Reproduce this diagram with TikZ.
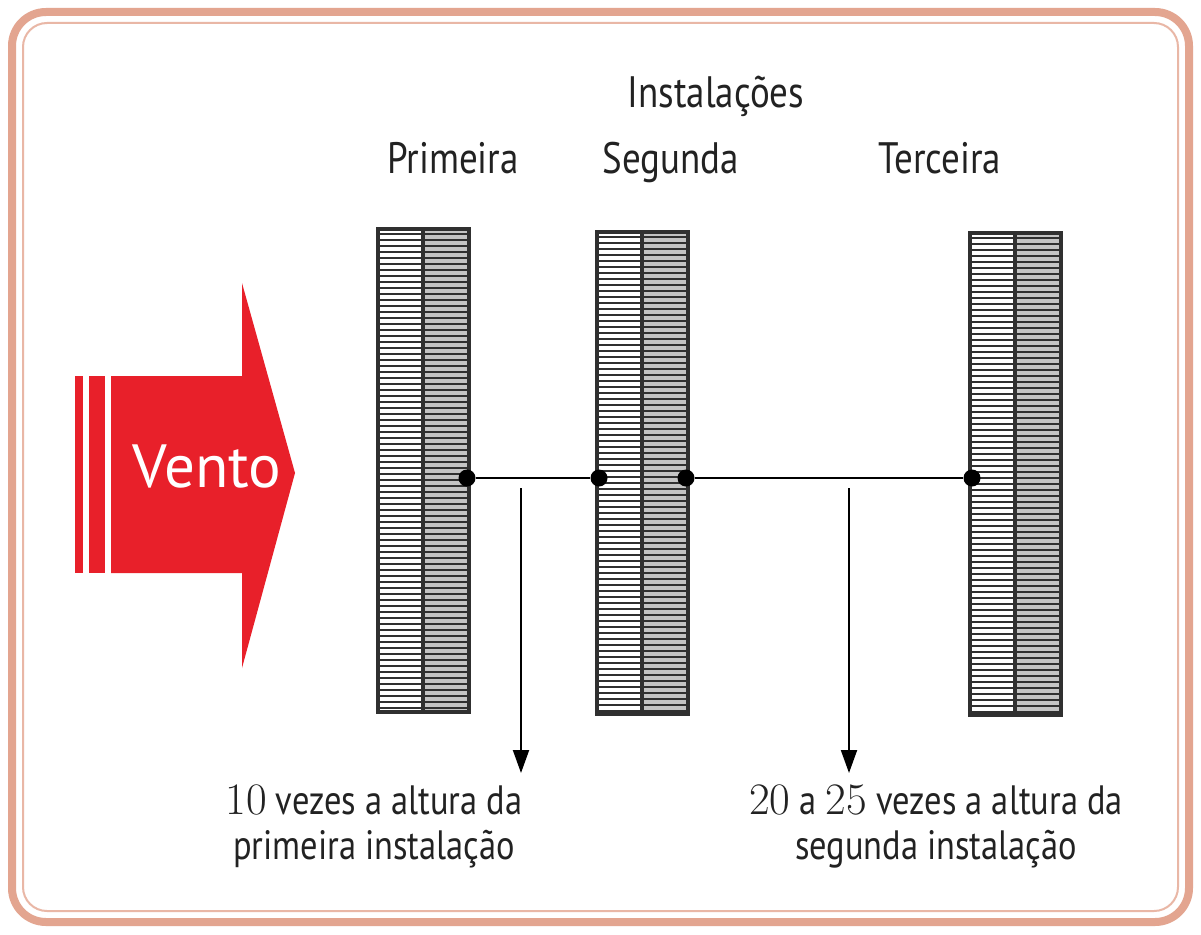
\documentclass[tikz,border=0pt]{standalone}
\usepackage{fontspec}
\setsansfont[FakeStretch=0.84]{PT Sans}
\newfontfamily\ventofont{PT Sans}
\definecolor{frame}{HTML}{E3A590}
\definecolor{ventored}{HTML}{E8202A}
\definecolor{barline}{HTML}{303030}
\definecolor{bargrey}{HTML}{C4C4C4}
\definecolor{txt}{HTML}{222222}
\usetikzlibrary{arrows.meta}
\tikzset{
  lbl/.style={font=\sffamily\fontsize{44}{50}\selectfont, text=txt, inner sep=0pt, anchor=base},
  note/.style={font=\sffamily\fontsize{41}{45}\selectfont, text=txt, inner sep=0pt, align=center, anchor=north},
  dot/.style={circle, fill=black, inner sep=0pt, minimum size=17pt},
  conn/.style={line width=2pt, black},
  down/.style={line width=2pt, black, -{Triangle[width=16pt,length=23pt]}},
}
\newcommand{\num}[1]{{\rmfamily\fontsize{45}{45}\selectfont #1}}
\newcommand{\windbar}[3]{%
  % #1 left x, #2 top y, #3 bottom y
  \fill[white] (#1,#2) rectangle ({#1+45},#3);
  \fill[bargrey] ({#1+45},#2) rectangle ({#1+91},#3);
  \pgfmathtruncatemacro{\nstr}{(#3-#2)/6}
  \foreach \k in {1,...,\nstr} {
    \draw[barline, line width=1.6pt] (#1,{#2+6*\k-1}) -- ({#1+91},{#2+6*\k-1});
  }
  \draw[barline, line width=3.5pt] (#1,#2) rectangle ({#1+91},#3);
  \draw[barline, line width=4pt] ({#1+45},#2) -- ({#1+45},#3);
}
\begin{document}
\begin{tikzpicture}[x=1pt,y=-1pt]
\useasboundingbox (0,0) rectangle (1201,934);
\fill[white] (0,0) rectangle (1201,934);
% frame
\draw[frame, line width=8pt, rounded corners=34pt] (12,12) rectangle (1189,922);
\draw[frame!80, line width=2pt, rounded corners=24pt] (23,23) rectangle (1178,911);
% wind arrow
\fill[ventored] (75,376) rectangle (83,573);
\fill[ventored] (89,376) rectangle (105,573);
\fill[ventored] (111,376) -- (242,376) -- (242,283) -- (295,473) -- (242,668) -- (242,573) -- (111,573) -- cycle;
\node[font=\ventofont\fontsize{61}{61}\selectfont, text=white, inner sep=0pt, anchor=base] (vento) at (207,487) {Vento};
% bars
\windbar{378}{229}{712}
\windbar{597}{232}{714}
\windbar{970}{233}{715}
% labels
\node[lbl] (inst) at (716,107) {Instalações};
\node[lbl] (p1) at (453,173) {Primeira};
\node[lbl] (p2) at (671,173) {Segunda};
\node[lbl] (p3) at (940,173) {Terceira};
% connectors
\node[dot] (d1) at (467,478) {};
\node[dot] (d2) at (599,478) {};
\node[dot] (d3) at (686,478) {};
\node[dot] (d4) at (972,478) {};
\draw[conn] (d1) -- (d2);
\draw[conn] (d3) -- (d4);
\coordinate (a1s) at (521,488);
\coordinate (a1e) at (521,773);
\coordinate (a2s) at (849,488);
\coordinate (a2e) at (849,773);
\draw[down] (a1s) -- (a1e);
\draw[down] (a2s) -- (a2e);
\node[note] (n1) at (374,785) {\num{10} vezes a altura da\\primeira instalação};
\node[note] (n2) at (936,785) {\num{20} a \num{25} vezes a altura da\\segunda instalação};
\end{tikzpicture}
\end{document}
